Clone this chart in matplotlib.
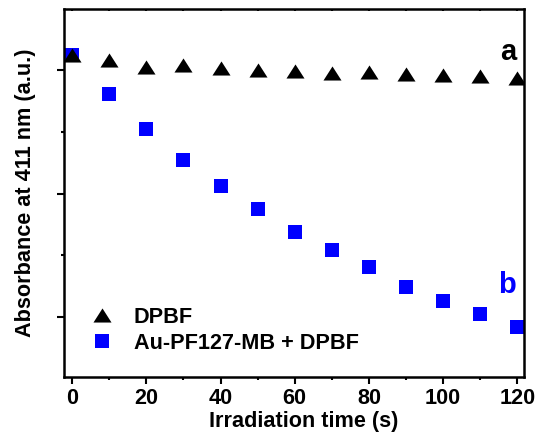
import matplotlib
matplotlib.use('Agg')
import matplotlib.pyplot as plt
from matplotlib.ticker import MultipleLocator, NullFormatter

# Irradiation time (s)
time_s = [0, 10, 20, 30, 40, 50, 60, 70, 80, 90, 100, 110, 120]
# a: DPBF alone
dpbf = [0.624, 0.616, 0.605, 0.608, 0.603, 0.600, 0.598,
        0.595, 0.597, 0.594, 0.592, 0.590, 0.587]
# b: Au-PF127-MB + DPBF
au_dpbf = [0.624, 0.561, 0.504, 0.454, 0.412, 0.375, 0.338,
           0.308, 0.281, 0.249, 0.226, 0.205, 0.184]

BLUE = "#0000ff"
FONT = "Liberation Sans"
FS = 15.6
plt.rcParams['font.family'] = [FONT, 'DejaVu Sans']
plt.rcParams['font.weight'] = 'bold'

# slightly flattened triangle, as in the original figure
tri = [(-1, -0.78), (1, -0.78), (0, 0.78), (-1, -0.78)]

fig = plt.figure(figsize=(5.37, 4.36), dpi=100)
ax = fig.add_axes([0.1192, 0.1353, 0.8566, 0.8441])

ax.plot(time_s, au_dpbf, linestyle='none', marker='s', markersize=9.4,
        color=BLUE, markeredgewidth=0, label="Au-PF127-MB + DPBF", zorder=2)
ax.plot(time_s, dpbf, linestyle='none', marker=tri, markersize=13,
        color='black', markeredgewidth=0, label="DPBF", zorder=3)

ax.set_xlim(-2.2, 121.8)
ax.set_ylim(0.103, 0.699)

ax.xaxis.set_major_locator(MultipleLocator(20))
ax.xaxis.set_minor_locator(MultipleLocator(10))
ax.yaxis.set_major_locator(MultipleLocator(0.2))
ax.yaxis.set_minor_locator(MultipleLocator(0.1))
ax.yaxis.set_major_formatter(NullFormatter())

ax.tick_params(axis='both', which='major', direction='out', length=5, width=1.5,
               labelsize=FS, pad=3)
ax.tick_params(axis='both', which='minor', direction='out', length=2.5, width=1.5)
ax.tick_params(axis='x', which='both', top=True)
for lbl in ax.get_xticklabels():
    lbl.set_fontweight('bold')
for spine in ax.spines.values():
    spine.set_linewidth(1.8)
# top ticks point inward
for t in ax.xaxis.get_major_ticks() + ax.xaxis.get_minor_ticks():
    t.tick2line.set_marker(3)
    t.tick2line.set_markersize(1.5)

ax.set_xlabel("Irradiation time (s)", fontsize=FS, fontweight='bold', labelpad=1, x=0.52)
ax.set_ylabel("Absorbance at 411 nm (a.u.)", fontsize=FS, fontweight='bold', labelpad=12)

ax.text(117.6, 0.629, "a", fontsize=21, fontweight='bold', color='black',
        ha='center', va='center')
ax.text(117.3, 0.252, "b", fontsize=21, fontweight='bold', color=BLUE,
        ha='center', va='center')

handles, labels = ax.get_legend_handles_labels()
ax.legend(handles[::-1], labels[::-1], loc='lower left', bbox_to_anchor=(0.06, 0.063),
          frameon=False, handlelength=1.0, handletextpad=0.95,
          labelspacing=0.22, borderpad=0, borderaxespad=0,
          prop={'family': FONT, 'weight': 'bold', 'size': FS})

fig.savefig("out.png", dpi=100)
